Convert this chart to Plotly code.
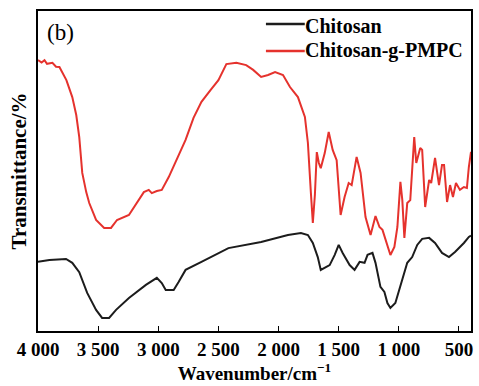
import plotly.graph_objects as go

# Chitosan (black)
chitosan_wn = [4000, 3905, 3767, 3715, 3657, 3591, 3517, 3467, 3409, 3351, 3244, 3103, 3012, 2971,
               2938, 2872, 2831, 2773, 2641, 2417, 2145, 1922, 1814, 1756, 1715, 1674, 1649, 1608,
               1575, 1533, 1500, 1467, 1409, 1368, 1326, 1285, 1260, 1219, 1194, 1153, 1120, 1095,
               1070, 1029, 987, 930, 889, 847, 806, 748, 699, 641, 583, 533, 459, 418, 400]
chitosan_t = [21.6, 22.2, 22.5, 21.3, 18.4, 11.9, 6.6, 4.1, 4.1, 6.6, 10.3, 14.4, 16.6, 15.0,
              12.8, 12.8, 15.3, 19.1, 21.6, 25.9, 27.8, 30.0, 30.6, 30.0, 27.5, 23.1, 19.1, 20.0,
              20.6, 23.8, 26.9, 24.4, 20.6, 19.1, 21.6, 21.3, 23.8, 24.4, 21.3, 13.8, 12.2, 8.75,
              7.2, 8.75, 13.8, 21.3, 23.1, 26.9, 28.8, 29.1, 27.5, 24.4, 23.1, 24.7, 27.5, 29.4, 29.8]

# Chitosan-g-PMPC (red)
pmpc_wn = [4000, 3970, 3946, 3925, 3880, 3850, 3822, 3764, 3715, 3682, 3657, 3632, 3599, 3574, 3517,
           3450, 3393, 3343, 3244, 3161, 3120, 3079, 3054, 3012, 2971, 2913, 2847, 2773, 2707,
           2641, 2566, 2500, 2434, 2351, 2269, 2211, 2145, 2087, 2029, 1963, 1905, 1839, 1781,
           1756, 1731, 1715, 1698, 1682, 1665, 1649, 1616, 1583, 1550, 1517, 1484, 1451, 1417,
           1392, 1351, 1318, 1277, 1235, 1194, 1161, 1136, 1111, 1070, 1037, 1012, 987, 971,
           954, 930, 905, 872, 855, 822, 806, 781, 748, 731, 699, 666, 641, 624, 599, 574, 550,
           525, 492, 459, 434, 418, 400]
pmpc_t = [84.7, 83.9, 84.6, 83.5, 83.8, 82.6, 82.5, 78.4, 73.1, 67.5, 60.6, 49.4, 43.4, 40.0, 34.7,
          32.2, 32.2, 34.7, 36.25, 40.9, 43.4, 44.1, 43.1, 43.75, 44.1, 48.1, 53.4, 59.7, 66.6,
          71.6, 75.3, 78.4, 83.4, 83.8, 83.1, 81.6, 79.4, 80.0, 80.9, 80.0, 76.25, 73.1, 66.9,
          58.75, 43.1, 33.75, 42.5, 55.9, 52.5, 50.9, 55.6, 62.2, 56.6, 53.4, 36.25, 41.9, 46.25,
          45.6, 54.4, 49.4, 35.6, 30.0, 35.9, 32.5, 31.6, 28.4, 23.75, 26.25, 32.5, 46.6, 40.9,
          29.1, 40.0, 40.9, 60.6, 52.5, 57.2, 56.6, 38.75, 47.2, 46.25, 54.1, 45.6, 51.9, 51.9,
          40.3, 45.6, 41.9, 46.25, 44.1, 45.0, 44.7, 51.25, 56.0]

series_names = ["Chitosan", "Chitosan-g-PMPC"]
series_colors = ["#1c1c1c", "#e5322d"]

tick_vals = [4000, 3500, 3000, 2500, 2000, 1500, 1000, 500]
tick_text = ["4 000", "3 500", "3 000", "2 500", "2 000", "1 500", "1 000", "500"]

FONT = "Liberation Serif, Times New Roman, serif"

fig = go.Figure()
for xs, ys, name, color in zip([chitosan_wn, pmpc_wn], [chitosan_t, pmpc_t],
                               series_names, series_colors):
    fig.add_trace(go.Scatter(x=xs, y=ys, mode="lines", name=name,
                             line=dict(color=color, width=2), showlegend=False))

# manual legend (line sample + bold label), positioned in paper coordinates
shapes = []
annotations = []
leg_rows_y = [0.959, 0.875]
leg_text_y = [0.952, 0.877]
for name, color, ly, ty in zip(series_names, series_colors, leg_rows_y, leg_text_y):
    shapes.append(dict(type="line", xref="paper", yref="paper", x0=0.5264, x1=0.6161,
                       y0=ly, y1=ly, line=dict(color=color, width=2.5)))
    annotations.append(dict(text=f"<b>{name}</b>", xref="paper", yref="paper",
                            x=0.612, y=ty, xanchor="left", yanchor="middle", showarrow=False,
                            font=dict(family=FONT, size=20, color="black")))
annotations.append(dict(text="(b)", x=0.0529, y=0.934, xref="paper", yref="paper",
                        xanchor="center", yanchor="middle", showarrow=False,
                        font=dict(family=FONT, size=23, color="black")))

fig.update_layout(
    width=479, height=386,
    margin=dict(l=38, r=6, t=11, b=55),
    paper_bgcolor="white", plot_bgcolor="white",
    font=dict(family=FONT, color="black", size=19),
    showlegend=False,
    shapes=shapes,
    annotations=annotations,
)
fig.update_xaxes(range=[4000, 400], tickvals=tick_vals, ticktext=tick_text,
                 ticks="inside", ticklen=5, tickwidth=1.2, tickcolor="black",
                 showline=True, linecolor="black", linewidth=1.5, mirror=True,
                 showgrid=False, zeroline=False,
                 tickfont=dict(family=FONT, size=19, color="black", weight="bold"),
                 title=dict(text="<b>Wavenumber/cm<sup>−1</sup></b>", standoff=4,
                            font=dict(family=FONT, size=19, color="black")))
fig.update_yaxes(range=[0, 100], showticklabels=False, ticks="",
                 showline=True, linecolor="black", linewidth=1.5, mirror=True,
                 showgrid=False, zeroline=False,
                 title=dict(text="<b>Transmittance/%</b>", standoff=4,
                            font=dict(family=FONT, size=21, color="black")))

fig.write_html("out.html")
